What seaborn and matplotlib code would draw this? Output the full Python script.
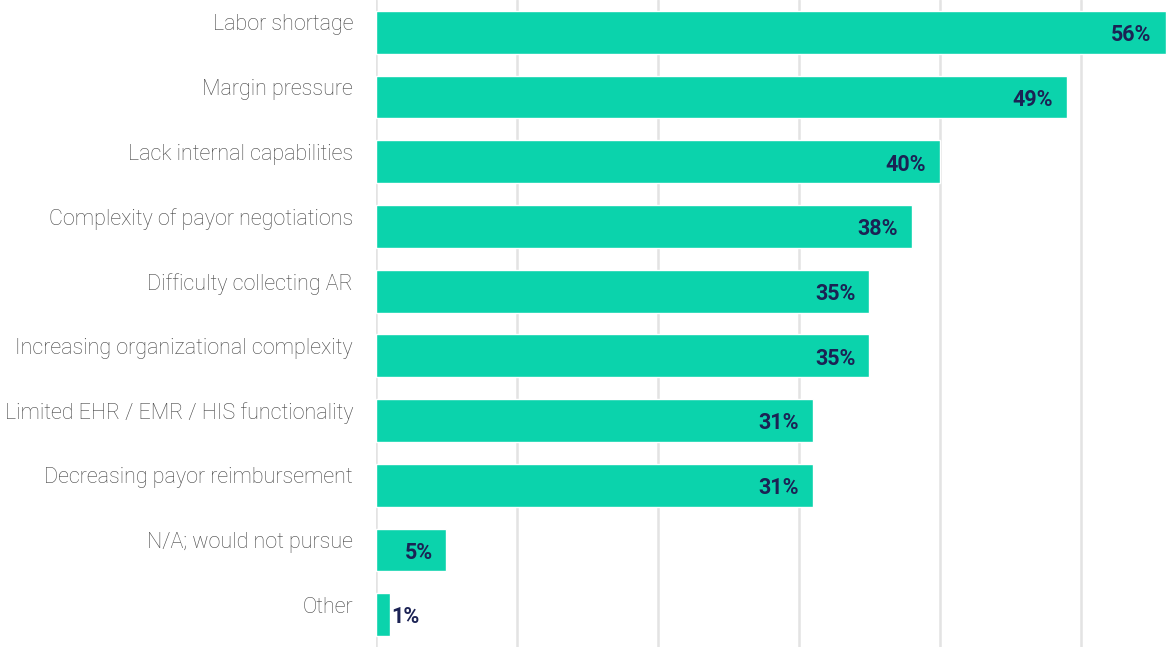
import matplotlib
matplotlib.use("Agg")
import matplotlib.pyplot as plt
import matplotlib.transforms as mtransforms
import seaborn as sns
import pandas as pd

categories = [
    "Labor shortage",
    "Margin pressure",
    "Lack internal capabilities",
    "Complexity of payor negotiations",
    "Difficulty collecting AR",
    "Increasing organizational complexity",
    "Limited EHR / EMR / HIS functionality",
    "Decreasing payor reimbursement",
    "N/A; would not pursue",
    "Other",
]
values = [56, 49, 40, 38, 35, 35, 31, 31, 5, 1]
grid_ticks = [0, 10, 20, 30, 40, 50]

df = pd.DataFrame({"category": categories, "value": values})

sns.set_theme(style="white")
plt.rcParams["font.family"] = ["Roboto", "DejaVu Sans"]

fig = plt.figure(figsize=(11.67, 6.47), dpi=100)
ax = fig.add_axes([376 / 1167, 0.0, 1 - 376 / 1167, 1.0])

bar_color = "#0BD3AC"
label_color = "#1B2254"

sns.barplot(data=df, x="value", y="category", orient="h", color=bar_color,
            width=0.66, saturation=1, ax=ax, zorder=3)

ax.set_xlim(0, 56.1)
ax.set_ylim(len(categories) - 0.5, -0.5)
ax.set_xticks(grid_ticks)
ax.set_xticklabels([])
ax.tick_params(axis="x", length=0)
ax.xaxis.grid(True, color="#E3E3E3", linewidth=1.8, zorder=0)
ax.yaxis.grid(False)
for s in ax.spines.values():
    s.set_visible(False)
ax.set_xlabel("")
ax.set_ylabel("")

ax.tick_params(axis="y", length=0, pad=16.5)
ax.set_yticks(range(len(categories)))
ax.set_yticklabels(categories, fontsize=15.5, color="#444444",
                   fontweight="light")
offset = mtransforms.ScaledTranslation(0, 10 / 100, fig.dpi_scale_trans)
for lbl in ax.get_yticklabels():
    lbl.set_transform(lbl.get_transform() + offset)

for i, v in enumerate(values):
    txt = f"{v}%"
    if v >= 3:
        ax.annotate(txt, xy=(v, i), xytext=(-10, -2), textcoords="offset points",
                    ha="right", va="center", fontsize=15.5, fontweight="bold",
                    color=label_color, zorder=4)
    else:
        ax.annotate(txt, xy=(v, i), xytext=(0.5, -2), textcoords="offset points",
                    ha="left", va="center", fontsize=15.5, fontweight="bold",
                    color=label_color, zorder=4)

fig.savefig("out.png", dpi=100)
